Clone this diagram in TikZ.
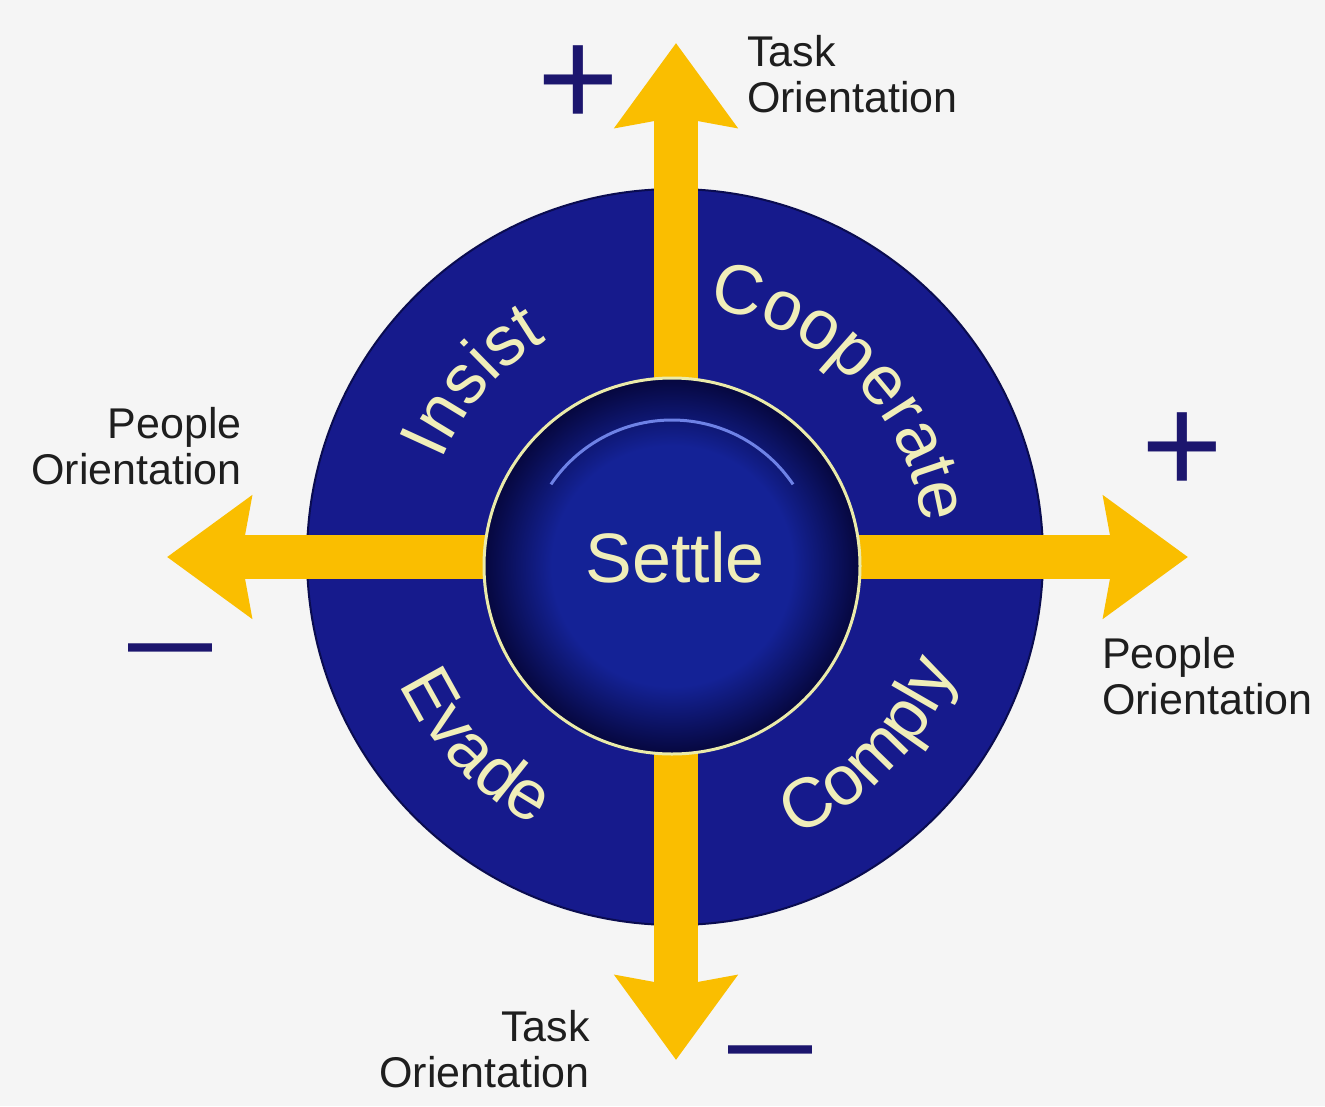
\documentclass[tikz,border=0pt]{standalone}
\usepackage{fontspec}
\setmainfont{Liberation Sans}
\usetikzlibrary{positioning,arrows.meta,decorations.text,calc}

\definecolor{paper}{RGB}{245,245,245}
\definecolor{ringblue}{RGB}{22,26,140}
\definecolor{ringedge}{RGB}{10,12,80}
\definecolor{hubmid}{RGB}{20,34,150}
\definecolor{hubedge}{RGB}{6,7,62}
\definecolor{hubrim}{RGB}{235,235,170}
\definecolor{shineblue}{RGB}{110,130,230}
\definecolor{arrowgold}{RGB}{250,190,0}
\definecolor{labelyellow}{RGB}{240,238,185}
\definecolor{signnavy}{RGB}{28,22,110}
\definecolor{inktext}{RGB}{30,30,30}

\pgfdeclareradialshading{hubglow}{\pgfpoint{0bp}{0bp}}{color(0bp)=(hubmid); color(16bp)=(hubmid); color(25bp)=(hubedge); color(50bp)=(hubedge)}

\begin{document}
\begin{tikzpicture}[
  x=1pt,y=-1pt,
  ringdisc/.style={circle,draw=ringedge,line width=2pt,fill=ringblue,minimum size=736pt,inner sep=0pt},
  hubdisc/.style={circle,draw=hubrim,line width=3pt,shade,shading=hubglow,minimum size=376pt,inner sep=0pt},
  hubtext/.style={font=\fontsize{70}{70}\selectfont,text=labelyellow,inner sep=0pt},
  hubshine/.style={line width=3pt,shineblue},
  axis/.style={line width=44pt,draw=arrowgold,-{Stealth[length=84pt,width=120pt,inset=10pt]}},
  axislabel/.style={font=\fontsize{43}{46}\selectfont,text=inktext,inner sep=0pt},
  plussign/.style={font=\fontsize{140}{140}\selectfont,text=signnavy,inner sep=0pt,anchor=base},
  minussign/.style={font=\bfseries\fontsize{84}{84}\selectfont,text=signnavy,inner sep=0pt,anchor=base},
  ringtext/.style={decorate,decoration={text along path,text align=center,
    text={|\fontsize{70}{70}\selectfont\color{labelyellow}|#1}}},
]

% ==== canvas ====
\fill[paper] (0,0) rectangle (1325,1106);
\useasboundingbox (0,0) rectangle (1325,1106);

% ==== outer ring ====
\node[ringdisc] (ring) at (675,557) {};

% ==== axes ====
\coordinate (cross) at (676,557);
\coordinate (north tip) at (676,43);
\coordinate (south tip) at (676,1060);
\coordinate (west tip) at (167,557);
\coordinate (east tip) at (1188,557);

\draw[axis] (cross) -- (north tip);
\draw[axis] (cross) -- (south tip);
\draw[axis] (cross) -- (west tip);
\draw[axis] (cross) -- (east tip);

% ==== centre disc ====
\node[hubdisc] (hub) at (672,566) {};
\draw[hubshine] ([shift={(-146:146)}]hub.center) arc[start angle=-146,end angle=-34,radius=146];
\node[hubtext] (settle) at (675,557) {Settle};

% ==== quadrant names ====
\path[ringtext=Insist] ([shift={(-219:252)}]ring.center) arc[start angle=-219,end angle=-59,radius=252];
\path[ringtext=Cooperate] ([shift={(-125:250)}]ring.center) arc[start angle=-125,end angle=35,radius=250];
\path[ringtext=Evade] ([shift={(-143.5:303)}]ring.center) arc[start angle=-143.5,end angle=-303.5,radius=303];
\path[ringtext=Comply] ([shift={(-235.7:303)}]ring.center) arc[start angle=-235.7,end angle=-395.7,radius=303];

% ==== axis labels ====
\node[axislabel,anchor=north west,align=left] (north label) at (747,35) {Task\\Orientation};
\node[axislabel,anchor=north east,align=right] (west label) at (242,407) {People\\Orientation};
\node[axislabel,anchor=north west,align=left] (east label) at (1102,637) {People\\Orientation};
\node[axislabel,anchor=north east,align=right] (south label) at (590,1010) {Task\\Orientation};

% ==== signs ====
\node[plussign] (north plus) at (578,126) {+};
\node[plussign] (east plus) at (1182,493) {+};
\node[minussign] (west minus) at (170,670) {—};
\node[minussign] (south minus) at (770,1072) {—};

\end{tikzpicture}
\end{document}
